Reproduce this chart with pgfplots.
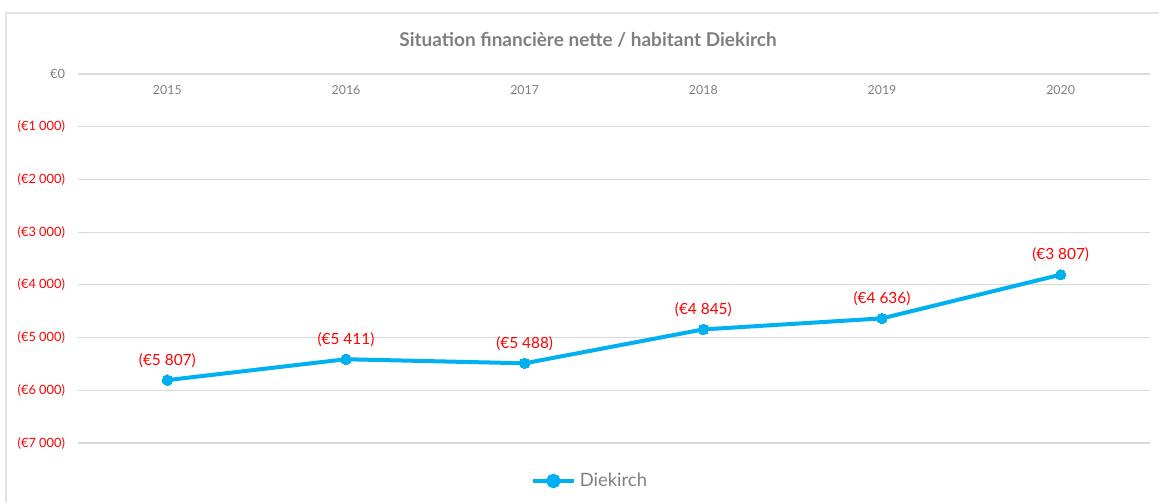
\documentclass[border=0pt]{standalone}
\usepackage{pgfplots}
\pgfplotsset{compat=1.18}
\usepackage{fontspec}
\setmainfont{Lato}
\definecolor{linecyan}{HTML}{00B0F0}
\definecolor{txtgray}{HTML}{7F7F7F}
\definecolor{gridgray}{HTML}{D9D9D9}
\definecolor{framegray}{HTML}{E3E3E3}
\definecolor{lblred}{HTML}{FF0000}

\begin{document}
\begin{tikzpicture}
\useasboundingbox (0,0) rectangle (579.5pt,251.5pt);
% outer chart frame
\draw[framegray, line width=1pt] (3pt,0pt) -- (3pt,245pt) -- (579.5pt,245pt);
\node[font=\fontsize{9.5}{11}\selectfont\bfseries, text=txtgray] at (294pt,231.5pt)
    {Situation financière nette / habitant Diekirch};
\begin{axis}[
    at={(39pt,30pt)}, anchor=south west,
    scale only axis,
    width=536pt, height=184.5pt,
    xmin=-0.5, xmax=5.5,
    ymin=-7000, ymax=0,
    axis line style={draw=none},
    ymajorgrids=true,
    grid style={gridgray, line width=0.6pt},
    xtick={0,...,5},
    xticklabels={2015,2016,2017,2018,2019,2020},
    xticklabel pos=upper,
    xticklabel style={anchor=north, yshift=-2pt, font=\fontsize{6.2}{7}\selectfont, text=txtgray},
    ytick={-7000,-6000,-5000,-4000,-3000,-2000,-1000,0},
    yticklabels={{(€7 000)},{(€6 000)},{(€5 000)},{(€4 000)},{(€3 000)},{(€2 000)},{(€1 000)},{\textcolor{txtgray}{€0}}},
    yticklabel style={anchor=east, xshift=-3pt, font=\fontsize{6.4}{7}\selectfont, text=lblred},
    major tick length=0pt,
    nodes near coords,
    point meta=explicit symbolic,
    every node near coord/.append style={font=\fontsize{7.7}{9}\selectfont, text=lblred, anchor=south, yshift=3pt},
    legend style={at={(0.4785,-0.103)}, anchor=center, draw=none, fill=none,
        font=\fontsize{9.2}{10}\selectfont, text=txtgray, inner sep=0pt},
    legend cell align=left,
]
\addplot[color=linecyan, line width=2pt, mark=*, mark size=2.6pt,
    mark options={fill=linecyan, draw=linecyan, line width=0pt},
    legend image code/.code={
        \draw[linecyan, line width=2pt] (0pt,0pt) -- (20.5pt,0pt);
        \fill[linecyan] (10.25pt,0pt) circle (2.6pt);
    }]
    coordinates {
    (0,-5807) [(€5 807)]
    (1,-5411) [(€5 411)]
    (2,-5488) [(€5 488)]
    (3,-4845) [(€4 845)]
    (4,-4636) [(€4 636)]
    (5,-3807) [(€3 807)]
    };
\legend{Diekirch}
\end{axis}
\end{tikzpicture}
\end{document}
